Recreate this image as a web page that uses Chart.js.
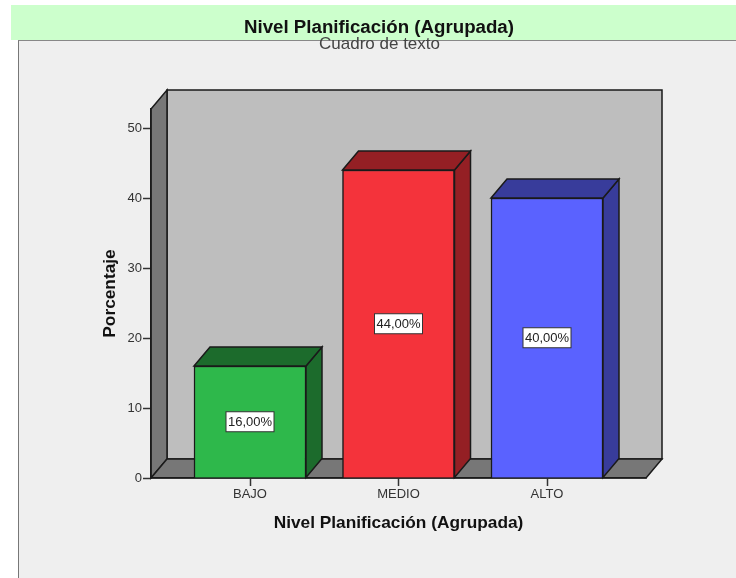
<!DOCTYPE html>
<html>
<head>
<meta charset="utf-8">
<script src="https://cdn.jsdelivr.net/npm/chart.js@4"></script>
<style>
  html, body { margin: 0; padding: 0; background: #fff; overflow: hidden; }
  #page { position: relative; width: 736px; height: 578px; font-family: "Liberation Sans", Arial, sans-serif; }
  #panel { position: absolute; left: 18px; top: 40px; right: 0; bottom: 0; background: #efefef; border-left: 1px solid #777; border-top: 1px solid #888; }
  #banner { position: absolute; left: 11px; top: 5px; right: 0; height: 35px; background: #ccffcc; }
  #title { position: absolute; left: 0; width: 758px; top: 16px; text-align: center; font-size: 18.7px; font-weight: bold; color: #111; }
  #subtitle { position: absolute; left: 0; width: 759px; top: 34px; text-align: center; font-size: 17px; color: #444; }
  canvas { position: absolute; left: 0; top: 0; }
</style>
</head>
<body>
<div id="page">
  <div id="panel"></div>
  <div id="banner"></div>
  <canvas id="myChart" width="736" height="578"></canvas>
  <div id="title">Nivel Planificación (Agrupada)</div>
  <div id="subtitle">Cuadro de texto</div>
</div>
<script>
var categories = ['BAJO', 'MEDIO', 'ALTO'];
var percentages = [16, 44, 40];
var valueLabels = ['16,00%', '44,00%', '40,00%'];
var frontColors = ['#2eb84b', '#f4333b', '#5a62ff'];
var sideColors = ['#1c6b2c', '#941f24', '#383c9b'];

var depthX = 16;
var depthY = 19;
var edgeColor = '#1a1a1a';

function face(ctx, points, fill) {
  ctx.beginPath();
  ctx.moveTo(points[0][0], points[0][1]);
  for (var i = 1; i < points.length; i++) {
    ctx.lineTo(points[i][0], points[i][1]);
  }
  ctx.closePath();
  ctx.fillStyle = fill;
  ctx.fill();
  ctx.lineWidth = 1.5;
  ctx.strokeStyle = edgeColor;
  ctx.stroke();
}

// back wall, side wall and floor of the box
var wallsPlugin = {
  id: 'walls',
  beforeDraw: function (chart) {
    var ctx = chart.ctx;
    var a = chart.chartArea;
    ctx.save();
    face(ctx, [[a.left + depthX, a.top - depthY], [a.right + depthX, a.top - depthY], [a.right + depthX, a.bottom - depthY], [a.left + depthX, a.bottom - depthY]], '#bebebe');
    face(ctx, [[a.left, a.top], [a.left + depthX, a.top - depthY], [a.left + depthX, a.bottom - depthY], [a.left, a.bottom]], '#777777');
    face(ctx, [[a.left, a.bottom], [a.left + depthX, a.bottom - depthY], [a.right + depthX, a.bottom - depthY], [a.right, a.bottom]], '#777777');
    ctx.restore();
  }
};

// side and top faces of the bars, then the value boxes
var barsPlugin = {
  id: 'bars3d',
  afterDatasetsDraw: function (chart) {
    var ctx = chart.ctx;
    var bars = chart.getDatasetMeta(0).data;
    ctx.save();
    for (var i = 0; i < bars.length; i++) {
      var b = bars[i];
      var l = b.x - b.width / 2;
      var r = b.x + b.width / 2;
      face(ctx, [[r, b.y], [r + depthX, b.y - depthY], [r + depthX, b.base - depthY], [r, b.base]], sideColors[i]);
      face(ctx, [[l, b.y], [l + depthX, b.y - depthY], [r + depthX, b.y - depthY], [r, b.y]], sideColors[i]);

      var midY = (b.y + b.base) / 2;
      ctx.fillStyle = '#fff';
      ctx.strokeStyle = '#333';
      ctx.lineWidth = 1;
      ctx.fillRect(b.x - 24, midY - 10, 48, 20);
      ctx.strokeRect(b.x - 24, midY - 10, 48, 20);
      ctx.fillStyle = '#222';
      ctx.font = '13px "Liberation Sans", Arial, sans-serif';
      ctx.textAlign = 'center';
      ctx.textBaseline = 'middle';
      ctx.fillText(valueLabels[i], b.x, midY + 0.5);
    }
    ctx.restore();
  }
};

var points = [];
for (var i = 0; i < categories.length; i++) {
  points.push({ x: i, y: percentages[i] });
}

var chart_data = {
  datasets: [{
    label: 'Porcentaje',
    data: points,
    backgroundColor: frontColors,
    borderColor: edgeColor,
    borderWidth: 1.5,
    barThickness: 112
  }]
};

var config = {
  type: 'bar',
  data: chart_data,
  options: {
    responsive: false,
    animation: false,
    layout: { padding: { top: 109, right: 90, left: 0, bottom: 0 } },
    plugins: { legend: { display: false }, tooltip: { enabled: false } },
    scales: {
      x: {
        type: 'linear',
        offset: false,
        min: -2 / 3,
        max: 8 / 3,
        afterBuildTicks: function (scale) {
          scale.ticks = categories.map(function (c, i) { return { value: i }; });
        },
        afterFit: function (scale) { scale.height = 100; },
        ticks: {
          callback: function (v) { return categories[v]; },
          color: '#333',
          font: { family: '"Liberation Sans", Arial, sans-serif', size: 13 },
          padding: 1,
          maxRotation: 0
        },
        grid: { offset: false, drawOnChartArea: false, tickLength: 8, tickColor: '#333', tickWidth: 1.5 },
        border: { color: edgeColor, width: 1.5 },
        title: {
          display: true,
          text: 'Nivel Planificación (Agrupada)',
          color: '#111',
          font: { family: '"Liberation Sans", Arial, sans-serif', size: 17.3, weight: 'bold' },
          padding: { top: 0, bottom: 44 }
        }
      },
      y: {
        min: 0,
        max: 369 / 7,
        afterFit: function (scale) { scale.width = 151; },
        ticks: {
          stepSize: 10,
          includeBounds: false,
          color: '#333',
          font: { family: '"Liberation Sans", Arial, sans-serif', size: 13 },
          padding: 1
        },
        grid: { drawOnChartArea: false, tickLength: 8, tickColor: '#333', tickWidth: 1.5 },
        border: { color: edgeColor, width: 1.5 },
        title: {
          display: true,
          text: 'Porcentaje',
          color: '#111',
          font: { family: '"Liberation Sans", Arial, sans-serif', size: 17.3, weight: 'bold' },
          padding: { top: 100, bottom: 0 }
        }
      }
    }
  },
  plugins: [wallsPlugin, barsPlugin]
};

var myChart = new Chart(document.getElementById('myChart'), config);
</script>
</body>
</html>
